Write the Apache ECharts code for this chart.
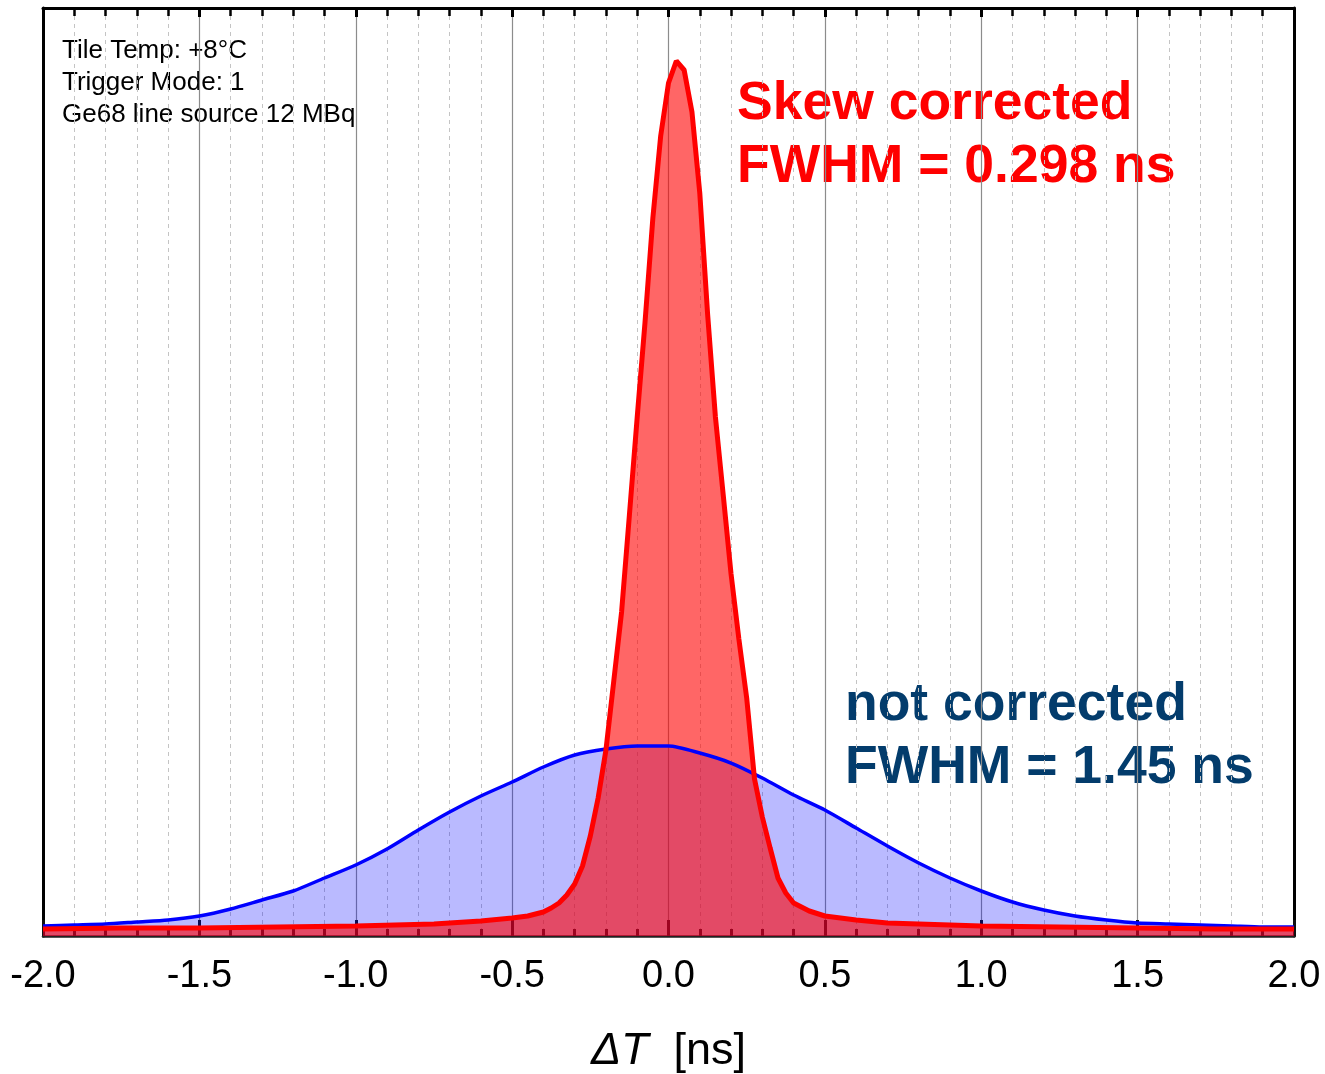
<!DOCTYPE html>
<html>
<head>
<meta charset="utf-8">
<script src="https://cdn.jsdelivr.net/npm/echarts@6/dist/echarts.min.js"></script>
<style>
  html, body { margin: 0; padding: 0; background: #fff; }
  #chart { width: 1325px; height: 1074px; }
</style>
</head>
<body>
<div id="chart"></div>
<script>
// skew corrected (red) histogram, x in ns, height in arbitrary counts
const redX = [-2.0, -1.75, -1.5, -1.25, -1.0, -0.75, -0.6, -0.5, -0.45, -0.4, -0.375, -0.35, -0.325, -0.3, -0.275,
  -0.25, -0.225, -0.2, -0.175, -0.15, -0.125, -0.1, -0.075, -0.05, -0.025, 0, 0.025, 0.05, 0.075, 0.1,
  0.125, 0.15, 0.175, 0.2, 0.225, 0.25, 0.275, 0.3, 0.325, 0.35, 0.375, 0.4, 0.45, 0.5, 0.6, 0.7, 0.8,
  1.0, 1.25, 1.5, 1.75, 2.0]
const redY = [7, 8, 8, 9, 10, 12, 15, 18, 20, 24, 28, 33, 41, 52, 70,
  100, 138, 186, 255, 324, 421, 519, 614, 718, 800, 853, 875, 866, 824, 743,
  622, 519, 441, 362, 297, 238, 157, 119, 88, 58, 43, 33, 25, 20, 16, 13, 12,
  10, 9, 8, 7, 7]

// not corrected (blue)
const blueX = [-2.0, -1.9, -1.8, -1.7, -1.6, -1.5, -1.4, -1.3, -1.2, -1.1, -1.0, -0.9, -0.8, -0.7, -0.6,
  -0.5, -0.4, -0.3, -0.2, -0.1, 0, 0.1, 0.2, 0.3, 0.4, 0.5, 0.6, 0.7, 0.8, 0.9, 1.0, 1.1, 1.2, 1.3,
  1.4, 1.5, 1.6, 1.7, 1.8, 1.9, 2.0]
const blueY = [10, 11, 12, 14, 16, 20, 27, 36, 45, 58, 71, 87, 106, 124, 140,
  154, 169, 181, 187, 190, 190, 183, 173, 158, 141, 126, 108, 90, 73, 58, 45, 34, 26, 20,
  16, 13, 12, 11, 10, 9, 9]

const infoLines = ['Tile Temp: +8°C', 'Trigger Mode: 1', 'Ge68 line source 12 MBq']

const font = '"Liberation Sans", Arial, sans-serif'
const pairs = (xs, ys) => xs.map((x, i) => [x, ys[i]])

let myChart = echarts.init(document.getElementById('chart'))

let graphics = infoLines.map((t, i) => ({
  type: 'text', x: 62, y: 51 + i * 32,
  style: { text: t, font: '26px ' + font, fill: '#000', verticalAlign: 'middle' }
}))
graphics.push(
  { type: 'text', x: 737, y: 104, style: { text: 'Skew corrected', font: 'bold 53.5px ' + font, fill: '#ff0000', verticalAlign: 'middle' } },
  { type: 'text', x: 737, y: 167, style: { text: 'FWHM = 0.298 ns', font: 'bold 53.5px ' + font, fill: '#ff0000', verticalAlign: 'middle' } },
  { type: 'text', x: 845, y: 705, style: { text: 'not corrected', font: 'bold 53.5px ' + font, fill: '#033c6c', verticalAlign: 'middle' } },
  { type: 'text', x: 845, y: 768, style: { text: 'FWHM = 1.45 ns', font: 'bold 53.5px ' + font, fill: '#033c6c', verticalAlign: 'middle' } }
)

let option = {
  animation: false,
  backgroundColor: '#fff',
  grid: { left: 43, right: 31, top: 8, bottom: 138, show: false, containLabel: false, outerBoundsMode: 'none' },
  xAxis: [
    {
      type: 'value', min: -2, max: 2, interval: 0.5, position: 'bottom',
      name: '{i|ΔT}  [ns]',
      nameLocation: 'middle',
      nameGap: 93,
      nameTextStyle: {
        fontSize: 45, fontFamily: font, color: '#000',
        rich: { i: { fontSize: 45, fontFamily: font, fontStyle: 'italic', color: '#000' } }
      },
      axisLine: { show: true, onZero: false, lineStyle: { color: '#222', width: 2.5 } },
      axisTick: { show: true, inside: true, length: 16, lineStyle: { color: '#111', width: 3 } },
      minorTick: { show: true, splitNumber: 5, length: 7, lineStyle: { color: '#111', width: 3 } },
      axisLabel: {
        fontSize: 38, fontFamily: font, color: '#000', margin: 22,
        formatter: v => v.toFixed(1)
      },
      splitLine: { show: true, lineStyle: { color: '#8c8c8c', width: 1.2 } },
      minorSplitLine: { show: true, lineStyle: { color: '#c4c4c4', width: 1, type: [4, 4] } }
    },
    {
      type: 'value', min: -2, max: 2, interval: 0.5, position: 'top',
      axisLine: { show: true, onZero: false, lineStyle: { color: '#000', width: 3 } },
      axisTick: { show: true, inside: true, length: 9, lineStyle: { color: '#000', width: 3 } },
      minorTick: { show: true, splitNumber: 5, length: 8, lineStyle: { color: '#000', width: 2.5 } },
      axisLabel: { show: false },
      splitLine: { show: false }
    }
  ],
  yAxis: [
    {
      type: 'value', min: 0, max: 928, position: 'left',
      axisLine: { show: true, onZero: false, lineStyle: { color: '#000', width: 3 } },
      axisTick: { show: false }, axisLabel: { show: false }, splitLine: { show: false }
    },
    {
      type: 'value', min: 0, max: 928, position: 'right',
      axisLine: { show: true, onZero: false, lineStyle: { color: '#000', width: 3 } },
      axisTick: { show: false }, axisLabel: { show: false }, splitLine: { show: false }
    }
  ],
  series: [
    {
      name: 'not corrected', type: 'line', data: pairs(blueX, blueY),
      symbol: 'none', smooth: 0.25,
      lineStyle: { color: '#0000ff', width: 3.5 },
      areaStyle: { color: 'rgba(0,0,255,0.27)', opacity: 1, origin: 'start' }
    },
    {
      name: 'skew corrected', type: 'line', data: pairs(redX, redY),
      symbol: 'none', smooth: false,
      lineStyle: { color: '#ff0000', width: 5 },
      areaStyle: { color: 'rgba(255,0,0,0.6)', opacity: 1, origin: 'start' }
    }
  ],
  graphic: graphics
}

myChart.setOption(option)
window.addEventListener('resize', function() {
  myChart.resize()
})
</script>
</body>
</html>
